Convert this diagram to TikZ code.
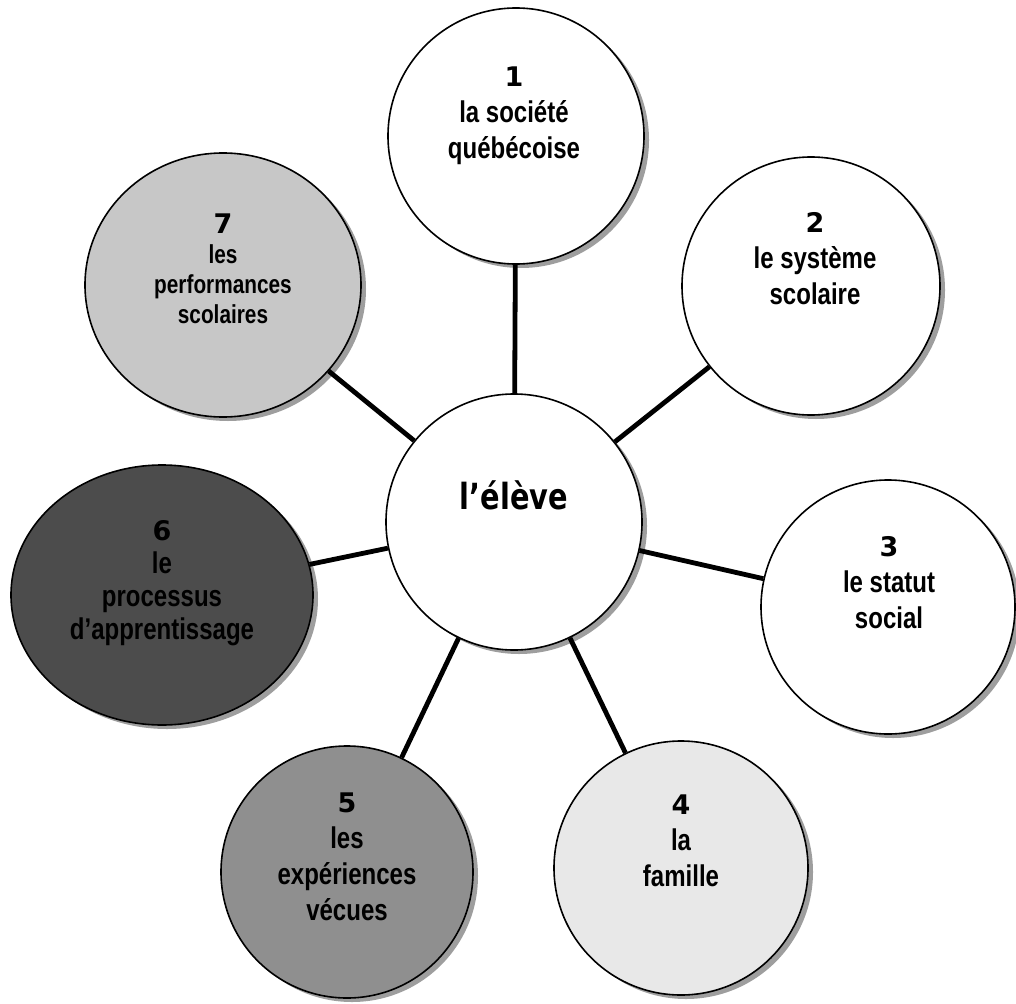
\documentclass[tikz,border=0pt]{standalone}
\usepackage{fontspec}
\setmainfont{Liberation Sans}[FakeStretch=0.8]
\newfontfamily\numfont{DejaVu Sans}
\newfontfamily\elevefont{DejaVu Sans}[FakeStretch=0.8]
\usetikzlibrary{shapes.geometric,shadows}
\definecolor{fillA}{gray}{0.91}
\definecolor{fillB}{gray}{0.56}
\definecolor{fillC}{gray}{0.30}
\definecolor{fillD}{gray}{0.78}
\definecolor{shade}{gray}{0.62}
\newcommand{\nb}[1]{{\fontsize{27}{35}\numfont\bfseries #1}}
\begin{document}
\begin{tikzpicture}[x=1pt,y=-1pt,
  bubble/.style={circle, draw=black, line width=1.6pt, inner sep=0pt, minimum size=256pt, fill=white,
    drop shadow={shadow xshift=5pt, shadow yshift=-4pt, fill=shade, opacity=1}},
  oval/.style={ellipse, draw=black, line width=1.6pt, inner sep=0pt, fill=white,
    drop shadow={shadow xshift=5pt, shadow yshift=-4pt, fill=shade, opacity=1}},
  conn/.style={line width=4.8pt, black},
  lbl/.style={align=center, anchor=north, inner sep=0pt, font=\fontsize{30}{36}\selectfont\bfseries},
  lblsmall/.style={align=center, anchor=north, inner sep=0pt, font=\fontsize{26}{30}\selectfont\bfseries}
]
\useasboundingbox (0,0) rectangle (1016,1003);

% bubbles
\node[bubble] (C) at (514,522) {};
\node[bubble] (N1) at (516,136) {};
\node[bubble, minimum size=258pt] (N2) at (811,286) {};
\node[bubble, minimum size=254pt] (N3) at (888,607) {};
\node[bubble, fill=fillA, minimum size=254pt] (N4) at (681,868) {};
\node[bubble, fill=fillB, minimum size=252pt] (N5) at (347,872) {};
\node[oval, fill=fillC, minimum width=302pt, minimum height=260pt] (N6) at (162,595) {};
\node[oval, fill=fillD, minimum width=276pt, minimum height=264pt] (N7) at (223,285) {};

% connectors
\draw[conn] (C) -- (N1);
\draw[conn] (C) -- (N2);
\draw[conn] (C) -- (N3);
\draw[conn] (C) -- (N4);
\draw[conn] (C) -- (N5);
\draw[conn] (C) -- (N6);
\draw[conn] (C) -- (N7);

% labels
\node[anchor=base, inner sep=0pt, font=\fontsize{36}{40}\elevefont\bfseries] (tC) at (514,509) {l’élève};
\node[lbl] (t1) at (514,67) {\nb{1}\\la société\\québécoise};
\node[lbl] (t2) at (815,212) {\nb{2}\\le système\\scolaire};
\node[lbl] (t3) at (889,536) {\nb{3}\\le statut\\social};
\node[lbl] (t4) at (681,795) {\nb{4}\\la\\famille};
\node[lbl] (t5) at (347,793) {\nb{5}\\les\\expériences\\vécues};
\node[lbl, font=\fontsize{30}{33}\selectfont\bfseries] (t6) at (162,520) {\nb{6}\\le\\processus\\d’apprentissage};
\node[lblsmall] (t7) at (223,214) {\nb{7}\\les\\performances\\scolaires};
\end{tikzpicture}
\end{document}
